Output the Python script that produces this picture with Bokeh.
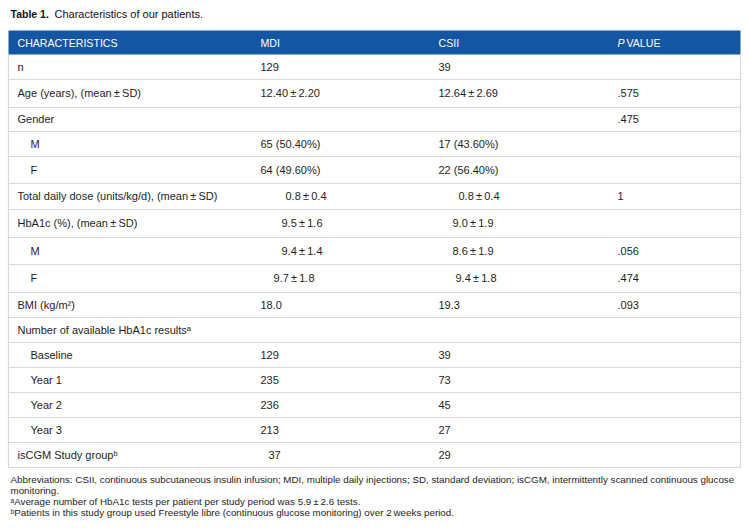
from bokeh.plotting import figure
from bokeh.models import Range1d, ColumnDataSource
from bokeh.embed import file_html
from bokeh.resources import INLINE
from bokeh.core.properties import value

# ---------------- data ----------------
title_bold = "Table 1."
title_text = "Characteristics of our patients."
headers = ["CHARACTERISTICS", "MDI", "CSII", "P", "VALUE"]

characteristics = ["n", "Age (years), (mean\u2009\u00b1\u2009SD)", "Gender", "M", "F",
                   "Total daily dose (units/kg/d), (mean\u2009\u00b1\u2009SD)",
                   "HbA1c (%), (mean\u2009\u00b1\u2009SD)", "M", "F", "BMI (kg/m\u00b2)",
                   "Number of available HbA1c results\u1d43", "Baseline", "Year 1",
                   "Year 2", "Year 3", "isCGM Study group\u1d47"]
mdi = ["129", "12.40\u2009\u00b1\u20092.20", "", "65 (50.40%)", "64 (49.60%)",
       "0.8\u2009\u00b1\u20090.4", "9.5\u2009\u00b1\u20091.6", "9.4\u2009\u00b1\u20091.4",
       "9.7\u2009\u00b1\u20091.8", "18.0", "", "129", "235", "236", "213", "37"]
csii = ["39", "12.64\u2009\u00b1\u20092.69", "", "17 (43.60%)", "22 (56.40%)",
        "0.8\u2009\u00b1\u20090.4", "9.0\u2009\u00b1\u20091.9", "8.6\u2009\u00b1\u20091.9",
        "9.4\u2009\u00b1\u20091.8", "19.3", "", "39", "73", "45", "27", "29"]
p_value = ["", ".575", ".475", "", "", "1", "", ".056", ".474", ".093",
           "", "", "", "", "", ""]
footnotes = [
    "Abbreviations: CSII, continuous subcutaneous insulin infusion; MDI, multiple daily injections; SD, standard deviation; isCGM, intermittently scanned continuous glucose",
    "monitoring.",
    "\u1d43Average number of HbA1c tests per patient per study period was 5.9\u2009\u00b1\u20092.6 tests.",
    "\u1d47Patients in this study group used Freestyle libre (continuous glucose monitoring) over 2\u2009weeks period.",
]

# ---------------- layout ----------------
row_heights = [25, 28, 24, 25, 27, 26, 28, 27, 28, 25, 25, 25, 25, 25, 25, 25]
indent = [0, 0, 0, 1, 1, 0, 0, 1, 1, 0, 0, 1, 1, 1, 1, 0]
mdi_shift = [0, 0, 0, 0, 0, 25, 21, 21, 13, 0, 0, 0, 0, 0, 0, 8]
csii_shift = [0, 0, 0, 0, 0, 20, 14, 14, 17, 0, 0, 0, 0, 0, 0, 0]
L, R = 8, 740
HEAD_TOP, HEAD_BOT = 30, 54
X_CHAR, X_IND, X_MDI, X_CSII, X_P = 17, 30, 260, 438, 617
FONT = value("Liberation Sans")
BODY = "11px"
TXT = "#1e1e1e"
GRID = "#d9d9d9"
BLUE = "#1456a3"
W, H = 745, 527

p = figure(width=W, height=H, x_range=Range1d(0, W), y_range=Range1d(H, 0),
           output_backend="svg", toolbar_location=None, min_border=0,
           x_axis_location=None, y_axis_location=None)
p.grid.visible = False
p.outline_line_color = None
p.background_fill_color = "white"
p.border_fill_color = "white"

# title
p.text(x=[10], y=[13], text=[title_bold], text_font=FONT, text_font_size="10.5px",
       text_font_style="bold", text_baseline="middle", text_color="#111111")
p.text(x=[54], y=[13], text=[title_text], text_font=FONT, text_font_size="11px",
       text_baseline="middle", text_color="#111111")

# header band
p.quad(left=[L], right=[R], top=[HEAD_TOP], bottom=[HEAD_BOT], fill_color=BLUE, line_color=None)
hy = (HEAD_TOP + HEAD_BOT) / 2
p.text(x=[X_CHAR, X_MDI, X_CSII], y=[hy] * 3, text=headers[:3], text_font=FONT,
       text_font_size="10.6px", text_baseline="middle", text_color="white")
p.text(x=[X_P], y=[hy], text=[headers[3]], text_font=FONT, text_font_size="10.6px",
       text_font_style="italic", text_baseline="middle", text_color="white")
p.text(x=[X_P + 9], y=[hy], text=[headers[4]], text_font=FONT, text_font_size="10.6px",
       text_baseline="middle", text_color="white")

# rows
bounds = [HEAD_BOT]
for h in row_heights:
    bounds.append(bounds[-1] + h)
centers = [(bounds[i] + bounds[i + 1]) / 2 - 0.5 for i in range(len(row_heights))]

src = ColumnDataSource(dict(
    y=centers,
    xc=[X_IND if i else X_CHAR for i in indent],
    xm=[X_MDI + s for s in mdi_shift],
    xs=[X_CSII + s for s in csii_shift],
    xp=[X_P] * len(centers),
    c=characteristics, m=mdi, s=csii, pv=p_value,
))
for xcol, tcol in [("xc", "c"), ("xm", "m"), ("xs", "s"), ("xp", "pv")]:
    p.text(x=xcol, y="y", text=tcol, source=src, text_font=FONT, text_font_size=BODY,
           text_baseline="middle", text_color=TXT)

# grid lines
p.segment(x0=[L] * (len(bounds) - 1), x1=[R] * (len(bounds) - 1), y0=bounds[1:], y1=bounds[1:],
          line_color=GRID, line_width=1.2)
p.segment(x0=[L, R], x1=[L, R], y0=[HEAD_BOT, HEAD_BOT], y1=[bounds[-1], bounds[-1]],
          line_color=GRID, line_width=1.2)

# footnotes
p.text(x=[10] * 4, y=[479, 490, 501, 512], text=footnotes, text_font=FONT,
       text_font_size="9.8px", text_baseline="middle", text_color=TXT)

open("out.html", "w").write(file_html(p, INLINE))
